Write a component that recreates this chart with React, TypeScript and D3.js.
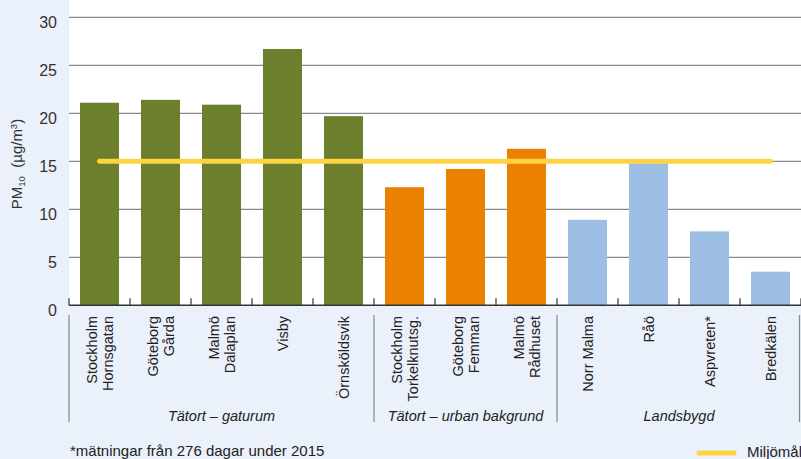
import React from "react";
import * as d3 from "d3";

const categories: string[][] = [
  ["Stockholm", "Hornsgatan"],
  ["Göteborg", "Gårda"],
  ["Malmö", "Dalaplan"],
  ["Visby"],
  ["Örnsköldsvik"],
  ["Stockholm", "Torkelknutsg."],
  ["Göteborg", "Femman"],
  ["Malmö", "Rådhuset"],
  ["Norr Malma"],
  ["Råö"],
  ["Aspvreten*"],
  ["Bredkälen"],
];
const values: number[] = [21.1, 21.4, 20.9, 26.7, 19.7, 12.3, 14.2, 16.3, 8.9, 14.8, 7.7, 3.5];
const groupOf: number[] = [0, 0, 0, 0, 0, 1, 1, 1, 2, 2, 2, 2];
const groupNames: string[] = ["Tätort – gaturum", "Tätort – urban bakgrund", "Landsbygd"];
const groupColors: string[] = ["#6c7f2c", "#ea8100", "#9ebfe4"];
const yTicks: number[] = [0, 5, 10, 15, 20, 25, 30];
const target = 15;

const W = 801, H = 459;
const L = 69, R = 801, T = 17.3, B = 305.3;
const FONT = "'Liberation Sans', Arial, sans-serif";

export default function App() {
  const x = d3.scaleBand<number>().domain(d3.range(categories.length)).range([L, R]).paddingInner(0.36).paddingOuter(0.18);
  const y = d3.scaleLinear().domain([0, 30]).range([B, T]);
  const step = x.step();
  const bandStart = (i: number) => L + i * step;
  const center = (i: number) => (x(i) as number) + x.bandwidth() / 2;

  const groups = groupNames.map((name, g) => {
    const idx = d3.range(categories.length).filter((i) => groupOf[i] === g);
    return { name, start: bandStart(idx[0]), end: bandStart(idx[idx.length - 1] + 1) };
  });
  const separators = [L, ...groups.map((g) => g.end)].map((v, i, arr) => (i === arr.length - 1 ? v - 1.5 : v));

  const lineGen = d3.line<number>().x((d) => d).y(() => y(target));

  return (
    <svg width={W} height={H} style={{ position: "absolute", left: 0, top: 0, fontFamily: FONT }}>
      <rect x={0} y={0} width={W} height={H} fill="#eaf1fa" />
      <rect x={L} y={0} width={R - L} height={B} fill="#ffffff" />
      {yTicks.filter((t) => t > 0).map((t) => (
        <line key={t} x1={L} x2={R} y1={y(t)} y2={y(t)} stroke="#8a8a8a" strokeWidth={1.2} />
      ))}
      {yTicks.map((t) => (
        <text key={t} x={57} y={y(t) + 10.5} textAnchor="end" fontSize={16} fill="#333">{t}</text>
      ))}
      <text transform={`translate(22,${164}) rotate(-90)`} textAnchor="middle" fontSize={15} fill="#333">
        PM<tspan fontSize={9.5} dy={3}>10</tspan><tspan dy={-3}>{"\u00a0\u00a0(µg/m"}</tspan><tspan fontSize={9.5} dy={-5}>3</tspan><tspan dy={5}>)</tspan>
      </text>
      {values.map((v, i) => (
        <rect key={i} x={x(i)} y={y(v)} width={x.bandwidth()} height={B - y(v)} fill={groupColors[groupOf[i]]} />
      ))}
      <path d={lineGen([center(0), center(categories.length - 1)]) || ""} stroke="#fdd344" strokeWidth={5} strokeLinecap="round" fill="none" />
      <line x1={L} x2={R} y1={B} y2={B} stroke="#333" strokeWidth={1.5} />
      {d3.range(categories.length + 1).map((i) => (
        <line key={i} x1={bandStart(i)} x2={bandStart(i)} y1={B - 7} y2={B} stroke="#333" strokeWidth={1.2} />
      ))}
      {categories.map((lines, i) => {
        const cx = center(i);
        const n = lines.length;
        return lines.map((s, k) => (
          <text key={`${i}-${k}`} transform={`translate(${cx + (k - (n - 1) / 2) * 16.5 + 5.5},316) rotate(-90)`} textAnchor="end" fontSize={14.5} fill="#222">{s}</text>
        ));
      })}
      {separators.map((sx, i) => (
        <line key={i} x1={sx} x2={sx} y1={315} y2={422} stroke="#888" strokeWidth={1.2} />
      ))}
      {groups.map((g, i) => (
        <text key={i} x={(g.start + g.end) / 2} y={421} textAnchor="middle" fontSize={14.5} fontStyle="italic" fill="#222">{g.name}</text>
      ))}
      <text x={70} y={456} fontSize={15} fill="#222">*mätningar från 276 dagar under 2015</text>
      <line x1={699} x2={734} y1={453} y2={453} stroke="#fdd344" strokeWidth={5} strokeLinecap="round" />
      <text x={747} y={457} fontSize={15} fill="#222">Miljömål</text>
    </svg>
  );
}
